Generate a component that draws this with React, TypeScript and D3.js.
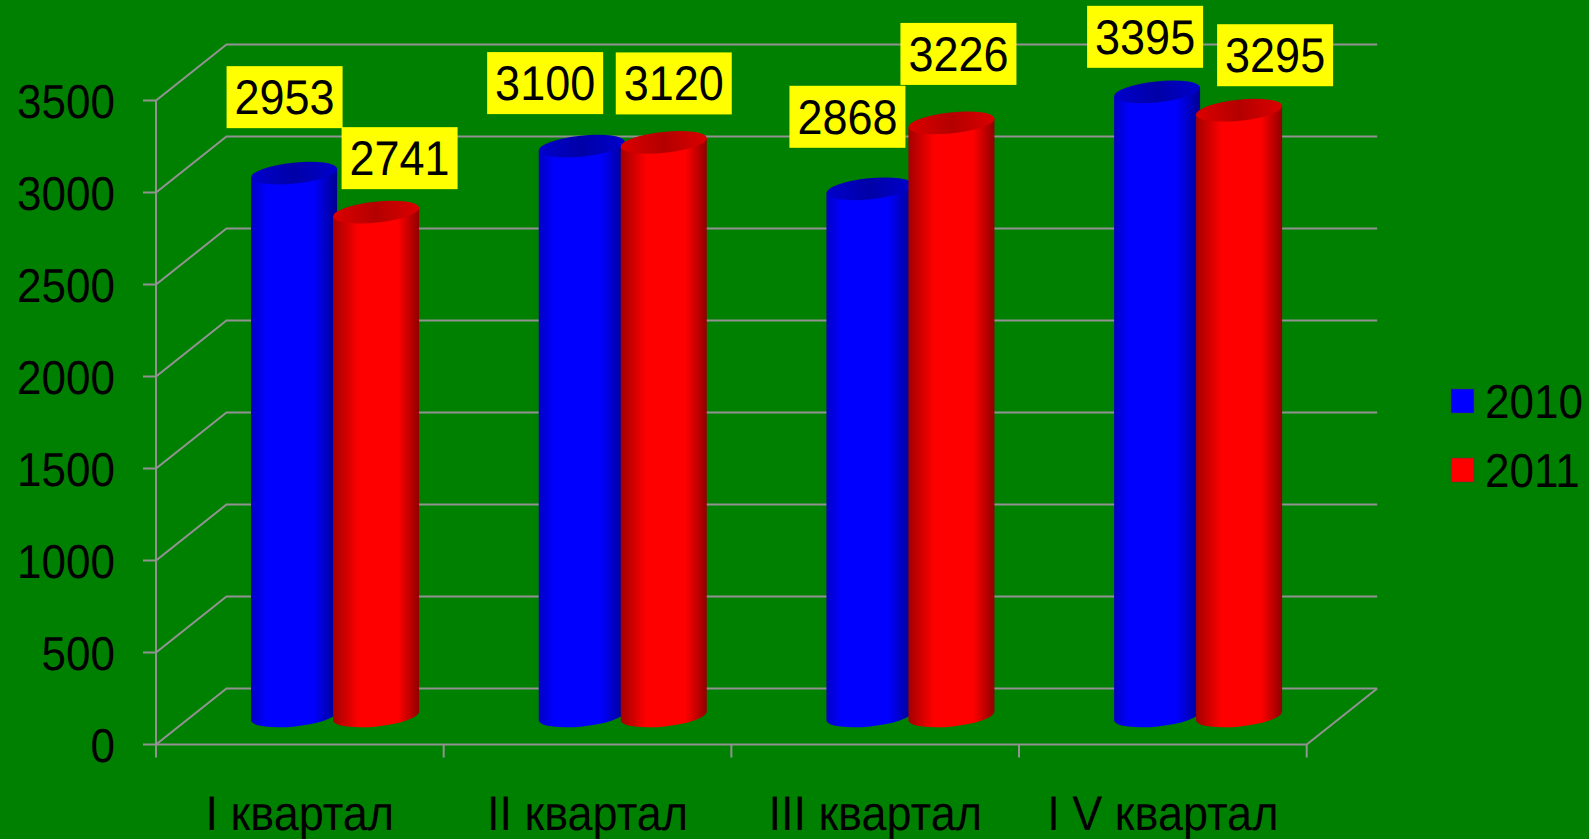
import React from 'react';
import * as d3 from 'd3';

const categories = ['I квартал', 'II квартал', 'III квартал', 'I V квартал'];
const seriesNames = ['2010', '2011'];
const values2010 = [2953, 3100, 2868, 3395];
const values2011 = [2741, 3120, 3226, 3295];
const yTicks = [0, 500, 1000, 1500, 2000, 2500, 3000, 3500];

const WIDTH = 1589;
const HEIGHT = 839;
const FONT = '"Liberation Sans", Arial, sans-serif';

// 3D box of the chart
const x0 = 156;
const x1 = 1306.7;
const y0 = 744.5;
const y3500 = 100.5;
const depthX = 70.5;
const depthY = -56;

const colors = [
  {
    id: 'blue',
    legend: '#0000ff',
    stops: [[0, '#0000c4'], [0.18, '#0000ff'], [0.72, '#0000ff'], [1, '#000090']],
    top: ['#0000cc', '#0000a8'],
  },
  {
    id: 'red',
    legend: '#ff0000',
    stops: [[0, '#a40000'], [0.3, '#ff0000'], [0.75, '#ff0000'], [1, '#900000']],
    top: ['#dc0000', '#b40000'],
  },
];

// where each yellow label sits, relative to the top of its cylinder
const labelOffsets = [
  [[-9.5, -76], [-36.6, -63], [-22, -72], [-12, -55]],
  [[23.5, -54], [10, -59], [7, -69], [36, -55]],
];

const x = d3.scaleBand<string>().domain(categories).range([x0, x1]);
const y = d3.scaleLinear().domain([0, 3500]).range([y0, y3500]);

// cylinders stand in the middle of the depth
const barWidth = 86;
const barStep = 82;
const rx = 43.3;
const ry = 10.5;
const tilt = 4.5;
const tiltAngle = -6;

const GRID = '#929292';

// the text of the original is a little stretched in height
function Label({ x, y, size, anchor = 'start', children }: any) {
  return (
    <text
      transform={`translate(${x},${y}) scale(1,1.08)`}
      fontSize={size}
      textAnchor={anchor}
      textRendering="geometricPrecision"
      fill="#000"
    >
      {children}
    </text>
  );
}

export default function App() {
  const series = [values2010, values2011];
  return (
    <svg
      width={WIDTH}
      height={HEIGHT}
      style={{ position: 'absolute', left: 0, top: 0, display: 'block' }}
      fontFamily={FONT}
    >
      <defs>
        {colors.map(c => (
          <React.Fragment key={c.id}>
            <linearGradient id={`body-${c.id}`} x1="0" x2="1" y1="0" y2="0">
              {c.stops.map(([o, col]) => (
                <stop key={o} offset={o} stopColor={col as string} />
              ))}
            </linearGradient>
            <linearGradient id={`top-${c.id}`} x1="0" x2="1" y1="0" y2="0">
              <stop offset="0" stopColor={c.top[0]} />
              <stop offset="0.5" stopColor={c.top[1]} />
              <stop offset="1" stopColor={c.top[0]} />
            </linearGradient>
          </React.Fragment>
        ))}
      </defs>

      <rect width={WIDTH} height={HEIGHT} fill="#008000" />

      {/* grid on the side and back walls */}
      <g fill="none" stroke={GRID} strokeWidth={2}>
        {yTicks.map(t => (
          <path
            key={t}
            d={`M${x0 - 13},${y(t)}H${x0}L${x0 + depthX},${y(t) + depthY}H${x1 + depthX}`}
          />
        ))}
        <path d={`M${x0},${y(3500)}V${y0 + 13}`} />
        <path d={`M${x0},${y0}H${x1}L${x1 + depthX},${y0 + depthY}`} />
        {categories.map(c => (
          <path key={c} d={`M${(x(c) as number) + x.bandwidth()},${y0}v13`} />
        ))}
      </g>

      {/* y axis labels */}
      {yTicks.map(t => (
        <Label key={t} x={115} y={y(t) + 17} size={44} anchor="end">
          {t}
        </Label>
      ))}

      {/* cylinders */}
      {categories.map((c, i) => {
        const mid = (x(c) as number) + x.bandwidth() / 2 + depthX / 2;
        return (
          <g key={c}>
            {series.map((vals, s) => {
              const cx = mid + (s === 0 ? -barStep / 2 : barStep / 2);
              const base = y(0) + depthY / 2;
              const top = base - (y(0) - y(vals[i]));
              const l = cx - barWidth / 2;
              const r = cx + barWidth / 2;
              const body =
                `M${l},${top + tilt}L${r},${top - tilt}` +
                `L${r},${base - tilt}A${rx},${ry} ${tiltAngle} 0 1 ${l},${base + tilt}Z`;
              return (
                <g key={s}>
                  <path d={body} fill={`url(#body-${colors[s].id})`} />
                  <ellipse
                    cx={cx}
                    cy={top}
                    rx={rx}
                    ry={ry}
                    transform={`rotate(${tiltAngle} ${cx} ${top})`}
                    fill={`url(#top-${colors[s].id})`}
                  />
                </g>
              );
            })}
          </g>
        );
      })}

      {/* yellow value labels */}
      {categories.map((c, i) => {
        const mid = (x(c) as number) + x.bandwidth() / 2 + depthX / 2;
        return series.map((vals, s) => {
          const cx = mid + (s === 0 ? -barStep / 2 : barStep / 2);
          const top = y(0) + depthY / 2 - (y(0) - y(vals[i]));
          const lx = cx + labelOffsets[s][i][0];
          const ly = top + labelOffsets[s][i][1];
          return (
            <g key={`${c}-${s}`}>
              <rect x={lx - 58} y={ly - 31} width={116} height={62} fill="#ffff00" />
              <Label x={lx} y={ly + 17} size={45} anchor="middle">
                {vals[i]}
              </Label>
            </g>
          );
        });
      })}

      {/* category labels */}
      {categories.map(c => (
        <Label key={c} x={(x(c) as number) + x.bandwidth() / 2} y={830} size={45} anchor="middle">
          {c}
        </Label>
      ))}

      {/* legend */}
      {seriesNames.map((name, i) => (
        <g key={name} transform={`translate(1451,${389 + i * 69})`}>
          <rect width={23} height={24} fill={colors[i].legend} stroke="#404040" strokeWidth={0.5} />
          <Label x={34} y={29} size={44}>
            {name}
          </Label>
        </g>
      ))}
    </svg>
  );
}
